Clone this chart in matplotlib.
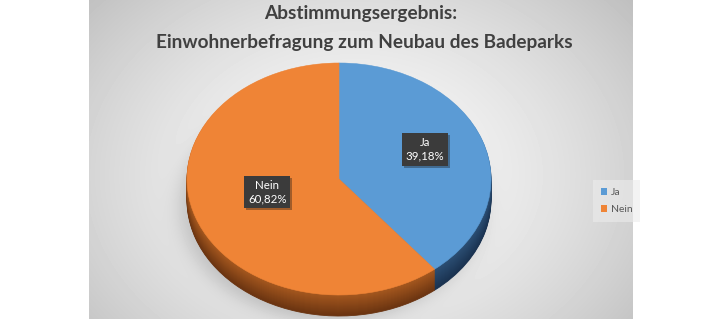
import numpy as np
import matplotlib.pyplot as plt
from matplotlib import colors as mcolors
from matplotlib import patheffects as pe
from matplotlib.patches import Patch

plt.rcParams['font.family'] = ['Lato', 'DejaVu Sans']

# -------------------------
# Data
# -------------------------
labels = ['Ja', 'Nein']
shares = [39.18, 60.82]

title_lines = [
    'Abstimmungsergebnis:',
    'Einwohnerbefragung zum Neubau des Badeparks',
]

# -------------------------
# Style
# -------------------------
top_colors = ['#5B9BD5', '#EF8436']
side_top = ['#2C4F74', '#A5581F']
side_bot = ['#1A3250', '#6A3411']


def mix(c1, c2, t):
    a = np.array(mcolors.to_rgb(c1))
    b = np.array(mcolors.to_rgb(c2))
    return tuple(a * (1 - t) + b * t)


W, H = 720, 319
fig = plt.figure(figsize=(W / 100, H / 100), dpi=100, facecolor='white')

# grey panel with radial light + soft pie shadow
bg = fig.add_axes([0, 0, 1, 1])
bg.set_xlim(0, W)
bg.set_ylim(H, 0)
bg.axis('off')
x0, x1 = 89, 633
xx, yy = np.meshgrid(np.arange(x0, x1) + 0.5, np.arange(H) + 0.5)
r = np.sqrt(((xx - 355) / 300) ** 2 + ((yy - 175) / 230) ** 2)
val = 0.975 - 0.17 * np.clip(r, 0, 1.2) ** 1.6
sd = np.sqrt(((xx - 332) / 152) ** 2 + ((yy - 205) / 116) ** 2)
val = val - 0.15 / (1 + np.exp((sd - 1) * 125 / 5))
bg.imshow(val, cmap='gray', vmin=0, vmax=1, extent=(x0, x1, H, 0),
          aspect='auto', interpolation='bilinear')

# -------------------------
# 3D-ish pie
# -------------------------
cx, top, a, b, depth = 339, 63, 152, 116, 21
dd = depth / b
ax_h = 2 * b + depth
ax = fig.add_axes([(cx - a) / W, (H - top - ax_h) / H, 2 * a / W, ax_h / H])

for k in range(depth, 0, -1):
    t = k / depth
    cols = [mix(side_top[i], side_bot[i], t) for i in range(len(shares))]
    ws, _ = ax.pie(shares, colors=cols, startangle=90, counterclock=False,
                   center=(0, -k * dd / depth))
    for w, c in zip(ws, cols):
        w.set_edgecolor(c)
        w.set_linewidth(0.6)

wedges, _ = ax.pie(shares, colors=top_colors, startangle=90, counterclock=False)
for w, c in zip(wedges, top_colors):
    w.set_edgecolor(c)
    w.set_linewidth(0.4)

ax.set_aspect('auto')
ax.set_xlim(-1, 1)
ax.set_ylim(-1 - dd, 1)
ax.axis('off')

# data labels
lab_r = [0.6, 0.5]
lift = 0.055
for w, lab, v, rr in zip(wedges, labels, shares, lab_r):
    mid = np.deg2rad((w.theta1 + w.theta2) / 2)
    txt = ax.text(rr * np.cos(mid), rr * np.sin(mid) + lift,
                  f"{lab}\n{v:.2f}%".replace('.', ','),
                  ha='center', va='center', color='white', fontsize=8.3,
                  linespacing=1.3,
                  bbox=dict(boxstyle='square,pad=0.33', fc='#3b3b3b', ec='none'))
    txt.get_bbox_patch().set_path_effects([
        pe.SimplePatchShadow(offset=(1.5, -1.5), alpha=0.35),
        pe.Normal(),
    ])

# -------------------------
# Title and legend
# -------------------------
fig.text(361 / W, 1 - 18.5 / H, title_lines[0], ha='center', va='baseline',
         fontsize=13.7, fontweight='bold', color='#404040')
fig.text(364 / W, 1 - 48 / H, title_lines[1], ha='center', va='baseline',
         fontsize=13.7, fontweight='bold', color='#404040')

handles = [Patch(facecolor=c, edgecolor='none') for c in top_colors]
leg = fig.legend(handles, labels, loc='upper left',
                 bbox_to_anchor=(591 / W, 1 - 178 / H), frameon=True,
                 fontsize=7.5, handlelength=0.6, handleheight=0.6,
                 handletextpad=0.35, labelspacing=0.8, borderpad=0.45,
                 labelcolor='#595959')
leg.get_frame().set_facecolor('#ececec')
leg.get_frame().set_edgecolor('none')
leg.get_frame().set_alpha(0.6)
leg.get_frame().set_boxstyle('square')

fig.savefig('out.png', dpi=100, facecolor='white')
